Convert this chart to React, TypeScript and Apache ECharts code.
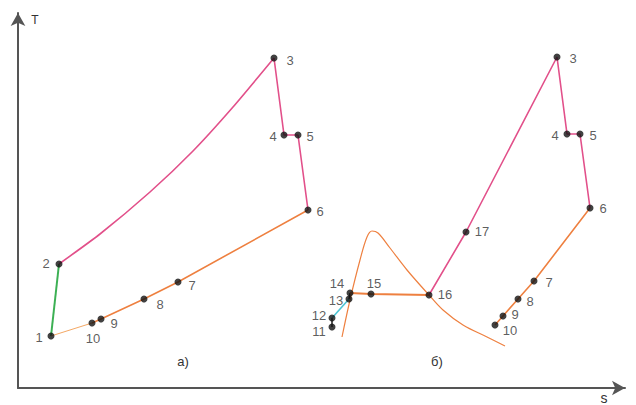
import React, { useEffect, useRef } from "react";
import * as echarts from "echarts";

// Cycle a) state points (entropy s, temperature T in chart units)
const leftNames = ["1", "2", "3", "4", "5", "6", "7", "8", "9", "10"];
const leftS = [33, 41, 256, 266, 280, 290, 160, 126, 83, 74];
const leftT = [52, 124, 330, 253, 253, 178, 106, 89, 69, 65];

// compression curve 2 -> 3 (intermediate readings)
const comprS = [41, 82, 132, 175, 215, 256];
const comprT = [124, 154, 196, 237, 281, 330];

// Cycle б) state points
const rightNames = ["3", "4", "5", "6", "7", "8", "9", "10", "11", "12", "13", "14", "15", "16", "17"];
const rightS = [539, 549, 562, 572, 516, 500, 485, 477, 314, 314, 331, 332, 353, 411, 448];
const rightT = [331, 254, 254, 180, 107, 89, 72, 63, 61, 70, 89, 95, 94, 93, 156];

// saturation dome
const domeS = [324, 332, 342, 349, 354, 360, 372, 389, 411, 425, 445, 469, 487];
const domeT = [51, 88, 128, 151, 157, 155, 140, 118, 93, 78, 63, 51, 42];

// label offsets (styling)
const leftLabelOffsets: Record<string, [number, number]> = {
  "1": [-12, 1], "2": [-13, -1], "3": [16, 2], "4": [-11, 1], "5": [12, 1],
  "6": [12, 1], "7": [14, 3], "8": [16, 5], "9": [13, 4], "10": [1, 15],
};
const rightLabelOffsets: Record<string, [number, number]> = {
  "3": [16, 1], "4": [-12, 1], "5": [13, 1], "6": [13, 0], "7": [15, 1],
  "8": [12, 2], "9": [12, -2], "10": [15, 5], "11": [-13, 4], "12": [-13, -3],
  "13": [-13, 1], "14": [-13, -10], "15": [3, -11], "16": [16, -1], "17": [16, -1],
};

const PINK = "#e2508a";
const ORANGE = "#ee8040";
const LIGHT_ORANGE = "#f4a865";
const GREEN = "#3cb054";
const CYAN = "#4cc4d4";
const FONT = "Liberation Sans, Arial, sans-serif";

export default function App() {
  const ref = useRef<HTMLDivElement>(null);
  useEffect(() => {
    if (!ref.current) return;
    const chart = echarts.init(ref.current, null, { renderer: "svg" });

    const pt = (names: string[], S: number[], T: number[], n: string) => {
      const i = names.indexOf(n);
      return [S[i], T[i]];
    };
    const L = (n: string) => pt(leftNames, leftS, leftT, n);
    const R = (n: string) => pt(rightNames, rightS, rightT, n);

    const line = (data: number[][], color: string, width: number, smooth: number | boolean = false) => ({
      type: "line",
      data,
      smooth,
      symbol: "none",
      lineStyle: { color, width },
      silent: true,
      z: 2,
    });

    const scatter = (names: string[], S: number[], T: number[], offs: Record<string, [number, number]>) => ({
      type: "scatter",
      symbolSize: 7,
      itemStyle: { color: "#111" },
      z: 5,
      data: names.map((n, i) => ({
        value: [S[i], T[i]],
        label: {
          show: true,
          formatter: n,
          position: "inside",
          offset: offs[n],
          color: "#333",
          fontSize: 13,
          fontFamily: FONT,
        },
      })),
    });

    const comprData = comprS.map((s, i) => [s, comprT[i]]);
    const domeData = domeS.map((s, i) => [s, domeT[i]]);

    chart.setOption({
      animation: false,
      grid: { left: 18, top: 13, right: 11, bottom: 17 },
      xAxis: {
        type: "value",
        min: 0,
        max: 607,
        axisLine: { show: true, lineStyle: { color: "#555", width: 2 }, symbol: ["none", "arrow"], symbolSize: [11, 13], onZero: false },
        axisTick: { show: false },
        axisLabel: { show: false },
        splitLine: { show: false },
      },
      yAxis: {
        type: "value",
        min: 0,
        max: 375,
        axisLine: { show: true, lineStyle: { color: "#555", width: 2 }, symbol: ["none", "arrow"], symbolSize: [11, 13], onZero: false },
        axisTick: { show: false },
        axisLabel: { show: false },
        splitLine: { show: false },
      },
      graphic: [
        { type: "text", x: 35, y: 20, style: { text: "T", fontSize: 12, fill: "#333", align: "center", verticalAlign: "middle", fontFamily: FONT } },
        { type: "text", x: 604, y: 398, style: { text: "s", fontSize: 14, fill: "#333", align: "center", verticalAlign: "middle", fontFamily: FONT } },
        { type: "text", x: 183, y: 361, style: { text: "а)", fontSize: 13, fill: "#333", align: "center", verticalAlign: "middle", fontFamily: FONT } },
        { type: "text", x: 437, y: 361, style: { text: "б)", fontSize: 13, fill: "#333", align: "center", verticalAlign: "middle", fontFamily: FONT } },
      ],
      series: [
        // cycle a)
        line([L("1"), L("2")], GREEN, 2),
        line(comprData, PINK, 1.6, 0.2),
        line([L("3"), L("4"), L("5"), L("6")], PINK, 1.6),
        line([L("6"), L("7"), L("8"), L("9"), L("10")], ORANGE, 1.6),
        line([L("10"), L("1")], LIGHT_ORANGE, 1),
        // cycle б)
        line(domeData, ORANGE, 1.2, 0.35),
        line([R("11"), R("12")], "#222", 1.5),
        line([R("12"), R("13")], CYAN, 1.6),
        line([R("13"), R("14")], "#222", 1.5),
        line([R("14"), R("15"), R("16")], ORANGE, 2),
        line([R("16"), R("17"), R("3"), R("4"), R("5"), R("6")], PINK, 1.6),
        line([R("6"), R("7"), R("8"), R("9"), R("10")], ORANGE, 1.6),
        scatter(leftNames, leftS, leftT, leftLabelOffsets),
        scatter(rightNames, rightS, rightT, rightLabelOffsets),
      ],
    });
    return () => chart.dispose();
  }, []);
  return <div ref={ref} style={{ position: "absolute", left: 0, top: 0, width: 636, height: 405, background: "#fff" }} />;
}
